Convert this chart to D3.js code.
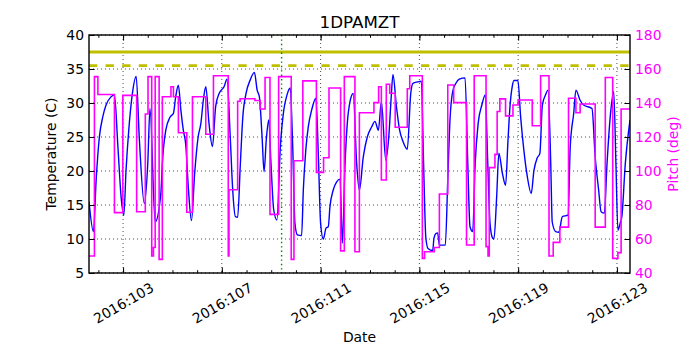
<!DOCTYPE html>
<html>
<head>
<meta charset="utf-8">
<script src="https://cdn.jsdelivr.net/npm/d3@7"></script>
<style>
    body { margin: 0; background: #fff; }
    text { font-family: "DejaVu Sans", sans-serif; }
</style>
</head>
<body>
<div id="chartArea"></div>
<script>

// Temperature (1DPAMZT), day of year 2016
let tempDays = [101.62, 101.80, 101.91, 102.04, 102.18, 102.31, 102.51, 102.65, 102.79, 102.92,
    103.03, 103.12, 103.23, 103.36, 103.53, 103.66, 103.86, 104.00, 104.09, 104.30,
    104.53, 104.59, 104.73, 104.90, 105.04, 105.13, 105.24, 105.34, 105.44, 105.54,
    105.64, 105.77, 105.90, 106.04, 106.15, 106.25, 106.35, 106.48, 106.62, 106.75,
    106.89, 107.09, 107.21, 107.34, 107.44, 107.55, 107.64, 107.75, 107.85, 107.98,
    108.15, 108.32, 108.43, 108.52, 108.63, 108.71, 108.80, 108.90, 108.99, 109.10,
    109.23, 109.37, 109.51, 109.64, 109.77, 109.87, 109.96, 110.06, 110.23, 110.30,
    110.40, 110.50, 110.64, 110.81, 110.91, 111.00, 111.11, 111.22, 111.31, 111.38,
    111.51, 111.65, 111.79, 111.88, 111.99, 112.08, 112.19, 112.32, 112.46, 112.57,
    112.73, 112.89, 113.07, 113.20, 113.34, 113.46, 113.64, 113.76, 113.86, 113.93,
    114.07, 114.20, 114.34, 114.51, 114.65, 114.74, 114.94, 115.08, 115.17, 115.26,
    115.35, 115.54, 115.59, 115.67, 115.74, 115.81, 116.05, 116.15, 116.24, 116.35,
    116.48, 116.62, 116.85, 116.96, 117.05, 117.16, 117.26, 117.38, 117.53, 117.67,
    117.77, 117.86, 117.97, 118.02, 118.13, 118.22, 118.36, 118.49, 118.59, 118.67,
    118.76, 118.83, 118.99, 119.10, 119.23, 119.37, 119.53, 119.64, 119.77, 119.88,
    119.98, 120.11, 120.21, 120.32, 120.38, 120.52, 120.65, 120.79, 121.02, 121.11,
    121.25, 121.34, 121.51, 121.65, 121.99, 122.12, 122.26, 122.36, 122.49, 122.60,
    122.73, 122.87, 122.96, 123.04, 123.13, 123.20, 123.34, 123.53];

let tempValues = [15.5, 11.1, 18.7, 25.0, 28.0, 29.7, 30.9, 31.2, 23.6, 16.2,
    13.5, 20.1, 26.0, 30.9, 33.9, 24.6, 15.2, 21.1, 29.2, 12.5,
    16.7, 21.1, 26.0, 27.9, 28.5, 30.9, 32.6, 29.0, 26.0, 23.8,
    17.7, 12.7, 19.7, 25.0, 27.0, 30.4, 32.4, 27.0, 23.6, 29.5,
    31.4, 32.4, 33.5, 25.0, 17.2, 13.3, 13.2, 21.1, 28.0, 31.4,
    33.4, 34.5, 31.9, 30.9, 25.0, 19.9, 24.6, 27.5, 21.1, 14.3,
    12.8, 23.6, 29.0, 31.2, 32.2, 23.6, 12.3, 10.6, 10.5, 17.2,
    23.1, 26.5, 29.0, 30.7, 22.1, 12.3, 10.0, 11.6, 11.8, 14.8,
    17.2, 18.4, 18.8, 9.4, 21.1, 27.0, 30.2, 31.4, 21.1, 17.2,
    22.1, 25.0, 26.5, 27.3, 26.0, 30.2, 21.6, 25.0, 30.9, 34.2,
    29.5, 26.0, 24.3, 23.2, 31.4, 32.9, 33.1, 33.2, 21.1, 10.3,
    8.6, 8.3, 10.1, 10.8, 10.9, 9.1, 9.1, 18.7, 27.5, 31.7,
    32.9, 33.5, 33.7, 21.1, 11.8, 11.1, 21.1, 27.0, 29.7, 31.2,
    21.1, 12.3, 10.1, 10.0, 16.2, 22.6, 19.7, 17.9, 24.6, 29.5,
    32.4, 33.3, 33.3, 28.0, 23.1, 19.2, 16.7, 20.1, 21.9, 22.6,
    29.7, 31.2, 31.9, 21.1, 12.5, 11.1, 11.0, 13.3, 13.5, 23.6,
    28.5, 31.9, 30.4, 29.7, 29.2, 22.1, 17.2, 14.0, 13.8, 21.1,
    28.0, 31.7, 21.1, 11.3, 12.3, 13.3, 21.1, 27.5];

// Pitch (deg): each value holds from its day until the next one
let pitchDays = [101.62, 101.84, 101.98, 102.65, 102.99, 103.55, 103.90, 104.01, 104.16, 104.23,
    104.30, 104.46, 104.59, 104.94, 105.04, 105.24, 105.58, 105.81, 106.35, 106.66,
    107.26, 107.29, 107.64, 107.74, 108.34, 108.55, 108.75, 108.95, 109.30, 109.81,
    109.92, 110.28, 110.83, 111.12, 111.34, 111.81, 111.96, 112.39, 112.57, 113.16,
    113.35, 113.46, 113.66, 113.80, 114.02, 114.51, 114.61, 115.12, 115.21, 115.60,
    115.81, 116.15, 116.39, 116.91, 117.22, 117.70, 117.78, 117.83, 118.06, 118.15,
    118.26, 118.49, 118.79, 119.00, 119.57, 119.91, 120.25, 120.42, 120.69, 121.04,
    121.34, 121.51, 122.12, 122.53, 122.83, 123.04, 123.17, 123.53];

let pitchValues = [50, 155.5, 145, 75.5, 144.5, 76, 133.5, 155.5, 50, 55,
    155.5, 48, 143.7, 149.6, 143.7, 122.5, 75.7, 143.7, 121.6, 156,
    50, 89, 141, 142.5, 141.5, 136.5, 155, 74.5, 155.5, 48,
    106, 153, 99.2, 107.8, 148.8, 53, 155.5, 52.5, 134.3, 140.2,
    149.6, 94.7, 151, 145.7, 125.7, 148.4, 156, 48.6, 52.5, 55,
    86.5, 150.6, 140.2, 56.5, 156, 55.5, 50, 102, 109.8, 135,
    142.4, 132.4, 138.8, 141.8, 126.6, 156, 50, 58, 67, 142.8,
    134.3, 139.4, 67, 155, 48.6, 52, 136.5, 136.5];

// Temperature limits
let planningLimit = 37.5;
let cautionLimit = 35.5;
let nowDay = 109.42;

let xTickDays = [103, 107, 111, 115, 119, 123];
let minorDays = d3.range(102, 124);
let tempTicks = [5, 10, 15, 20, 25, 30, 35, 40];
let pitchTicks = [40, 60, 80, 100, 120, 140, 160, 180];

let margins = { top: 35, right: 70, bottom: 77, left: 89 };
let width = 700 - margins.left - margins.right,
    height = 350 - margins.top - margins.bottom;

let svg = d3.select('#chartArea').append('svg')
    .attr('width', 700)
    .attr('height', 350);

let chart = svg.append('g')
    .attr('transform', 'translate(' + margins.left + ',' + margins.top + ')');

let xScale = d3.scaleLinear().domain([101.62, 123.53]).range([0, width]);
let yScale = d3.scaleLinear().domain([5, 40]).range([height, 0]);
let pScale = d3.scaleLinear().domain([40, 180]).range([height, 0]);

chart.append('clipPath').attr('id', 'clip')
    .append('rect').attr('width', width).attr('height', height);

// grid
let grid = chart.append('g')
    .attr('stroke', '#000')
    .attr('stroke-width', 0.7)
    .attr('stroke-dasharray', '1,3');
grid.selectAll('.vg').data(xTickDays).enter().append('line')
    .attr('x1', d => xScale(d)).attr('x2', d => xScale(d))
    .attr('y1', 0).attr('y2', height);
grid.selectAll('.hg').data(tempTicks).enter().append('line')
    .attr('x1', 0).attr('x2', width)
    .attr('y1', d => yScale(d)).attr('y2', d => yScale(d));

let plot = chart.append('g').attr('clip-path', 'url(#clip)');

plot.append('line')
    .attr('x1', 0).attr('x2', width)
    .attr('y1', yScale(planningLimit)).attr('y2', yScale(planningLimit))
    .attr('stroke', '#bfbf00').attr('stroke-width', 2.8);

plot.append('line')
    .attr('x1', 0).attr('x2', width)
    .attr('y1', yScale(cautionLimit)).attr('y2', yScale(cautionLimit))
    .attr('stroke', '#bfbf00').attr('stroke-width', 2.8)
    .attr('stroke-dasharray', '8.3,8.3');

plot.append('line')
    .attr('x1', xScale(nowDay)).attr('x2', xScale(nowDay))
    .attr('y1', 0).attr('y2', height)
    .attr('stroke', '#008000').attr('stroke-width', 1.4)
    .attr('stroke-dasharray', '1.4,3');

let tempLine = d3.line()
    .curve(d3.curveMonotoneX)
    .x((d, i) => xScale(tempDays[i]))
    .y(d => yScale(d));

plot.append('path')
    .attr('d', tempLine(tempValues))
    .attr('fill', 'none')
    .attr('stroke', '#0000ff')
    .attr('stroke-width', 1.4);

let pitchLine = d3.line()
    .curve(d3.curveStepAfter)
    .x((d, i) => xScale(pitchDays[i]))
    .y(d => pScale(d));

plot.append('path')
    .attr('d', pitchLine(pitchValues))
    .attr('fill', 'none')
    .attr('stroke', '#ff00ff')
    .attr('stroke-width', 1.6);

// axes
let fmtDay = d => '2016:' + d3.format('03d')(d);

let xAxis = chart.append('g')
    .attr('transform', 'translate(0,' + height + ')')
    .call(d3.axisBottom(xScale).tickValues(xTickDays).tickSize(-5.6).tickFormat(fmtDay));
xAxis.selectAll('text')
    .attr('y', null).attr('dy', null)
    .attr('transform', 'translate(0,30) rotate(-30)')
    .attr('text-anchor', 'middle')
    .attr('dominant-baseline', 'central');

chart.append('g')
    .attr('transform', 'translate(0,' + height + ')')
    .call(d3.axisBottom(xScale).tickValues(minorDays).tickSize(-2.8).tickFormat(''));

chart.append('g')
    .call(d3.axisTop(xScale).tickValues(xTickDays).tickSize(-5.6).tickFormat(''));
chart.append('g')
    .call(d3.axisTop(xScale).tickValues(minorDays).tickSize(-2.8).tickFormat(''));

chart.append('g')
    .call(d3.axisLeft(yScale).tickValues(tempTicks).tickSize(-5.6).tickPadding(5));

let rightAxis = chart.append('g')
    .attr('transform', 'translate(' + width + ',0)')
    .call(d3.axisRight(pScale).tickValues(pitchTicks).tickSize(-5.6).tickPadding(5));
rightAxis.selectAll('text').attr('fill', '#ff00ff');

chart.selectAll('.domain').remove();
chart.selectAll('.tick text').attr('font-size', '13.9px').attr('font-family', '"DejaVu Sans", sans-serif');
chart.selectAll('.tick line').attr('stroke', '#000');

// frame
chart.append('rect')
    .attr('width', width).attr('height', height)
    .attr('fill', 'none').attr('stroke', '#000').attr('stroke-width', 1.4);

// labels
svg.append('text')
    .attr('x', margins.left + width / 2).attr('y', 28)
    .attr('text-anchor', 'middle')
    .attr('font-size', '16.7px')
    .text('1DPAMZT');

svg.append('text')
    .attr('x', margins.left + width / 2).attr('y', 342)
    .attr('text-anchor', 'middle')
    .attr('font-size', '13.9px')
    .text('Date');

svg.append('text')
    .attr('transform', 'translate(56,' + (margins.top + height / 2) + ') rotate(-90)')
    .attr('text-anchor', 'middle')
    .attr('font-size', '13.9px')
    .text('Temperature (C)');

svg.append('text')
    .attr('transform', 'translate(678,' + (margins.top + height / 2) + ') rotate(-90)')
    .attr('text-anchor', 'middle')
    .attr('font-size', '13.9px')
    .attr('fill', '#ff00ff')
    .text('Pitch (deg)');

</script>
</body>
</html>
